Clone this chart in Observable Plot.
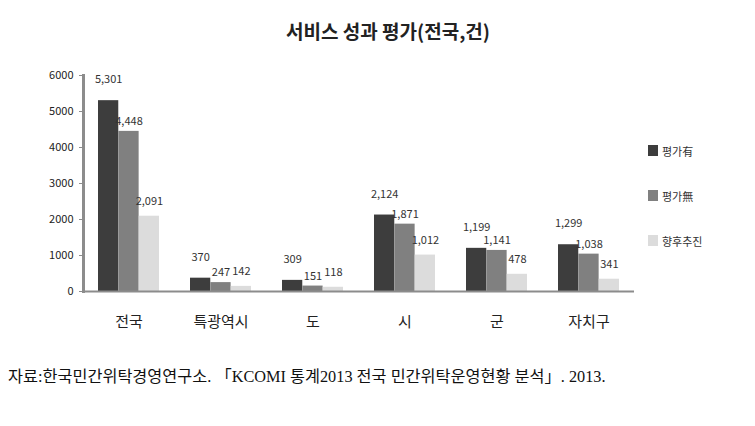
<!DOCTYPE html>
<html><head><meta charset="utf-8">
<script src="https://cdn.jsdelivr.net/npm/d3@7"></script>
<script src="https://cdn.jsdelivr.net/npm/@observablehq/plot@0.6"></script>
<style>
body{margin:0;background:#fff;font-family:"Noto Sans CJK KR",sans-serif;width:755px;height:426px;position:relative;overflow:hidden}
#title{height:50px;line-height:62px;font-size:19px;font-weight:bold;text-align:center;padding-left:21px;box-sizing:border-box;width:755px;color:#222}
#legend{position:absolute;left:648px;top:143px;font-size:11px;color:#333}
#legend div{height:45px;display:flex;align-items:flex-start}
#legend span.sw{display:inline-block;width:10px;height:11px;margin-right:4px;margin-top:2px}
#caption{margin-top:31px;margin-left:8px;font-family:"Liberation Serif","Noto Sans CJK KR",serif;font-size:16.3px;line-height:20px;color:#111;white-space:nowrap}
</style></head><body>
<div id="title">서비스 성과 평가(전국,건)</div>
<div id="chart"></div>
<div id="legend"></div>
<div id="caption">자료:한국민간위탁경영연구소. 「KCOMI 통계2013 전국 민간위탁운영현황 분석」. 2013.</div>
<script>
const categories = ["전국", "특광역시", "도", "시", "군", "자치구"];
const seriesNames = ["평가有", "평가無", "향후추진"];
const evalYes = [5301, 370, 309, 2124, 1199, 1299];
const evalNo = [4448, 247, 151, 1871, 1141, 1038];
const planned = [2091, 142, 118, 1012, 478, 341];
const yTicks = [0, 1000, 2000, 3000, 4000, 5000, 6000];
const colors = ["#3d3d3d", "#808080", "#dcdcdc"];

const W = 755, H = 286, mL = 83, mR = 121, mT = 25, mB = 45;
const padIn = 0.34, padOut = 0.146;
const labelDy = [-21, -10, -15];

const seriesValues = [evalYes, evalNo, planned];
const data = [];
categories.forEach((c, i) => seriesNames.forEach((s, j) => data.push({cat: c, series: s, idx: j, value: seriesValues[j][i]})));

// width of one category band, from the same band scale Plot builds
const bw = d3.scaleBand().domain(categories).range([mL, W - mR]).paddingInner(padIn).paddingOuter(padOut).bandwidth();
const barW = bw / seriesNames.length;

const barMarks = seriesNames.map((s, j) => Plot.barY(data.filter(d => d.idx === j), {
  x: "cat", y: "value", fill: "series",
  insetLeft: j * barW, insetRight: (seriesNames.length - 1 - j) * barW
}));
const labelMarks = seriesNames.map((s, j) => Plot.text(data.filter(d => d.idx === j), {
  x: "cat", y: "value", text: d => d3.format(",")(d.value),
  dx: (j - (seriesNames.length - 1) / 2) * barW, dy: labelDy[j], fontSize: 11, fill: "#333"
}));

const plot = Plot.plot({
  width: W, height: H,
  marginTop: mT, marginLeft: mL, marginRight: mR, marginBottom: mB,
  style: {fontFamily: '"Noto Sans CJK KR", sans-serif', color: "#222"},
  x: {domain: categories, paddingInner: padIn, paddingOuter: padOut, label: null},
  y: {domain: [0, 6000], label: null},
  color: {domain: seriesNames, range: colors},
  marks: [
    ...barMarks,
    ...labelMarks,
    Plot.ruleY([0], {stroke: "#8c8c8c", strokeWidth: 2}),
    Plot.frame({anchor: "left", stroke: "#8c8c8c", strokeWidth: 3}),
    Plot.axisY({ticks: yTicks, tickFormat: d => String(d), tickSize: 4, tickPadding: 6, fontSize: 11, stroke: "#8c8c8c", label: null}),
    Plot.axisX({anchor: "bottom", tickSize: 0, tickPadding: 25, fontSize: 15, label: null})
  ]
});
document.getElementById("chart").appendChild(plot);

const legend = document.getElementById("legend");
seriesNames.forEach((s, i) => {
  const row = document.createElement("div");
  row.innerHTML = `<span class="sw" style="background:${colors[i]}"></span><span>${s}</span>`;
  legend.appendChild(row);
});
</script>
</body></html>
